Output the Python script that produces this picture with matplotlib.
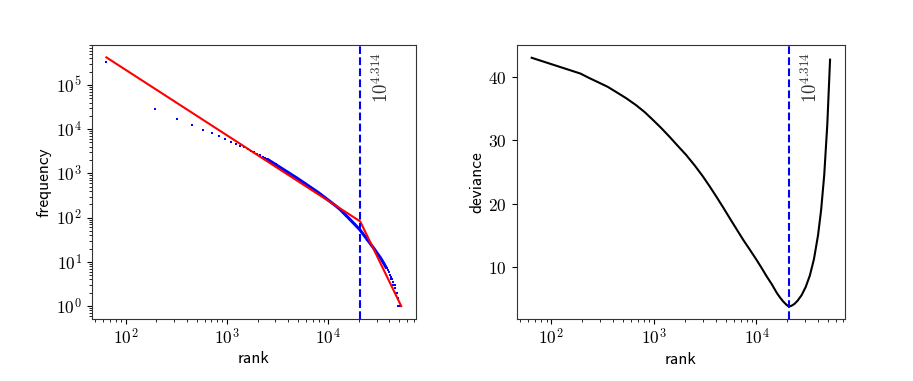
import numpy as np
import matplotlib
matplotlib.use("Agg")
import matplotlib.pyplot as plt
from matplotlib.ticker import FuncFormatter, FixedLocator, NullFormatter, LogLocator

plt.rcParams['mathtext.fontset'] = 'cm'

# ---- data ----
rank = [64.5, 192.5, 320.5, 448.5, 576.5, 704.5, 832.5, 960.5, 1088.5, 1216.5,
        1344.5, 1472.5, 1600.5, 1728.5, 1856.5, 1984.5, 2112.5, 2240.5, 2368.5, 2496.5,
        2752.5, 3008.5, 3264.5, 3520.5, 3776.5, 4032.5, 4288.5, 4544.5, 4800.5,
        5312.5, 5824.5, 6336.5, 6848.5, 7360.5, 7872.5, 8384.5, 8896.5, 9408.5, 9920.5,
        10944.5, 11968.5, 12992.5, 14016.5, 15040.5, 16064.5, 17088.5, 18112.5, 19136.5,
        20160.5, 21184.5, 22208.5, 23232.5, 24256.5, 25280.5, 26304.5, 27328.5, 28352.5,
        29376.5, 30400.5, 31424.5, 32448.5, 33472.5, 34496.5, 35520.5, 36544.5, 37568.5,
        38592.5, 39616.5, 40128.5, 40640.5, 41152.5, 41664.5, 42176.5, 42688.5, 43200.5,
        43712.5, 44224.5, 44736.5, 45248.5, 45760.5, 46272.5, 46784.5, 47296.5, 47808.5,
        48320.5, 48832.5, 49344.5, 49856.5, 50368.5, 50880.5, 51392.5, 51904.5, 52288.5]
freq = [3.24e5, 2.87e4, 17100, 12300, 9770, 8130, 6920, 6030, 5250, 4730,
        4270, 3890, 3550, 3240, 2985, 2754, 2570, 2400, 2240, 2090,
        1811, 1592, 1413, 1267, 1143, 1040, 951, 874, 807,
        691, 599, 525, 466, 416, 375, 336, 303, 275, 251,
        211, 180.5, 154, 129.4, 110, 94.6, 81.7, 71.0, 62.2,
        55.0, 47.7, 41.3, 36.0, 31.5, 27.8, 24.6, 21.9, 19.5,
        17.3, 15.5, 13.9, 12.6, 11.2, 10.0, 8.9, 7.9, 7.1,
        6.4, 5.9, 5.0, 5.0, 4.6, 4.0, 4.0, 4.0, 3.5,
        3.0, 3.0, 3.0, 3.0, 2.5, 2.0, 2.0, 2.0, 2.0,
        1.5, 1.0, 1.0, 1.0, 1.0, 1.0, 1.0, 1.0, 1.0]

fit_rank = [64.5, 10 ** 4.314, 52288.5]
fit_freq = [4.2e5, 82, 1.0]

break_log = 4.314

dev_rank = [64.5, 192.5, 234, 293, 355, 427, 537, 670, 813, 973, 1175, 1419, 1698,
            2065, 2512, 3006, 3508, 4064, 4732, 5483, 6310, 7396, 8610, 10000, 11220,
            12531, 14125, 15704, 16982, 18197, 19498, 20606,
            21878, 23442, 25119, 27542, 30200, 33113, 36308, 39811, 42658, 45709,
            48978, 52119]
deviance = [43.1, 40.6, 39.9, 39.15, 38.5, 37.7, 36.7, 35.6, 34.5, 33.3, 32.0, 30.6, 29.2,
            27.7, 26.0, 24.3, 22.7, 21.1, 19.4, 17.7, 16.1, 14.3, 12.7, 11.1, 9.8,
            8.5, 7.2, 5.9, 5.1, 4.5, 4.0, 3.7,
            3.8, 4.1, 4.6, 5.5, 6.8, 8.6, 11.2, 15.0, 19.0, 24.5,
            32.5, 42.8]

x_ticks = [1e2, 1e3, 1e4]
freq_ticks = [1e0, 1e1, 1e2, 1e3, 1e4, 1e5]
dev_ticks = [10, 20, 30, 40]

# ---- figure ----
fig = plt.figure(figsize=(9.13, 3.81), dpi=100)
ax1 = fig.add_axes([0.1004, 0.164, 0.3552, 0.718])
ax2 = fig.add_axes([0.566, 0.163, 0.3595, 0.718])

logfmt = FuncFormatter(lambda v, p: r'$10^{%d}$' % int(round(np.log10(v))) if v > 0 else '')

rank_a = np.array(rank)
freq_a = np.array(freq)
dense = (rank_a >= 2400) & (rank_a <= 37600)
ax1.plot(rank_a[dense], freq_a[dense], '-', color='blue', lw=2.2, solid_capstyle='butt')
ax1.plot(rank_a, freq_a, 's', color='blue', ms=1.7, mew=0)
ax1.plot(fit_rank, fit_freq, '-', color='red', lw=1.5)
ax1.set_xscale('log')
ax1.set_yscale('log')
ax1.axvline(10 ** break_log, color='blue', ls='--', lw=1.5)
ax1.annotate(r'$10^{%.3f}$' % break_log, xy=(10 ** break_log, 1), xycoords=('data', 'axes fraction'),
             xytext=(8, -5), textcoords='offset points', rotation=90, ha='left', va='top',
             fontsize=13.5, color='#333333')
ax1.set_xlabel('rank', family='cmss10', fontsize=12.5, labelpad=2)
ax1.set_ylabel('frequency', family='cmss10', fontsize=12.5, labelpad=3)

ax2.plot(dev_rank, deviance, '-', color='black', lw=1.5)
ax2.set_xscale('log')
ax2.axvline(10 ** break_log, color='blue', ls='--', lw=1.5)
ax2.annotate(r'$10^{%.3f}$' % break_log, xy=(10 ** break_log, 1), xycoords=('data', 'axes fraction'),
             xytext=(8, -5), textcoords='offset points', rotation=90, ha='left', va='top',
             fontsize=13.5, color='#333333')
ax2.set_xlabel('rank', family='cmss10', fontsize=12.5, labelpad=2)
ax2.set_ylabel('deviance', family='cmss10', fontsize=12.5, labelpad=3)
ax2.yaxis.set_major_locator(FixedLocator(dev_ticks))
ax2.yaxis.set_major_formatter(FuncFormatter(lambda v, p: r'$%d$' % v))

for ax in (ax1, ax2):
    ax.xaxis.set_major_locator(FixedLocator(x_ticks))
    ax.xaxis.set_minor_locator(LogLocator(base=10, subs=np.arange(2, 10)))
    ax.xaxis.set_major_formatter(logfmt)
    ax.xaxis.set_minor_formatter(NullFormatter())
    ax.tick_params(labelsize=12.5)
    for sp in ax.spines.values():
        sp.set_color('#333333')
ax1.yaxis.set_major_locator(FixedLocator(freq_ticks))
ax1.yaxis.set_minor_locator(LogLocator(base=10, subs=np.arange(2, 10)))
ax1.yaxis.set_major_formatter(logfmt)
ax1.yaxis.set_minor_formatter(NullFormatter())

fig.savefig('out.png', dpi=100)
